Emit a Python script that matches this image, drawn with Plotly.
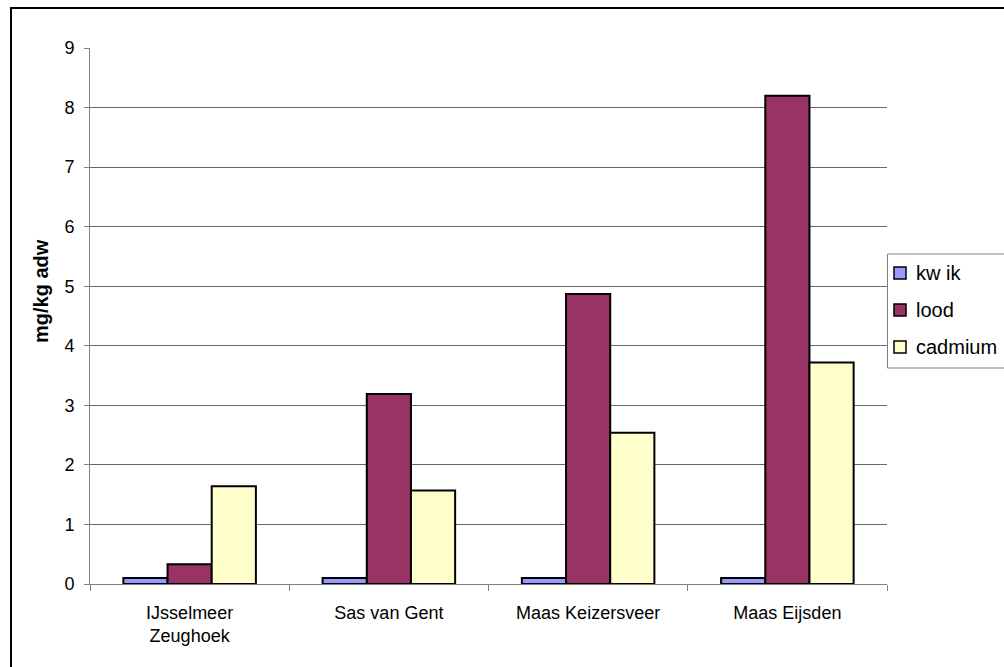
import plotly.graph_objects as go

categories = ["IJsselmeer<br>Zeughoek", "Sas van Gent", "Maas Keizersveer", "Maas Eijsden"]
kwik = [0.1, 0.1, 0.1, 0.1]
lood = [0.33, 3.19, 4.87, 8.2]
cadmium = [1.64, 1.57, 2.54, 3.72]
y_ticks = [0, 1, 2, 3, 4, 5, 6, 7, 8, 9]
y_title = "mg/kg adw"

series_names = ["kw ik", "lood", "cadmium"]
series_values = [kwik, lood, cadmium]
series_colors = ["#9999FF", "#993366", "#FFFFCC"]

fig = go.Figure()
for name, vals, col in zip(series_names, series_values, series_colors):
    fig.add_trace(go.Bar(x=categories, y=vals, name=name, showlegend=False,
                         marker=dict(color=col, line=dict(color="black", width=2))))

W, H = 1004, 667
L, R, T, B = 90, 117, 48, 83
pw, ph = W - L - R, H - T - B


def px_x(p):
    return (p - L) / pw


def px_y(p):
    return (H - B - p) / ph


FONT = "Liberation Sans, Arial"

shapes = [dict(type="rect", xref="paper", yref="paper",
               x0=px_x(11), x1=px_x(1012), y0=px_y(675), y1=px_y(8),
               line=dict(color="black", width=2), fillcolor="rgba(0,0,0,0)", layer="below"),
          dict(type="rect", xref="paper", yref="paper",
               x0=px_x(887.5), x1=px_x(1012), y0=px_y(368), y1=px_y(254),
               line=dict(color="#808080", width=1), fillcolor="white", layer="above")]
annotations = [dict(text="<b>" + y_title + "</b>", xref="paper", yref="paper",
                    x=px_x(41), y=px_y(291), xanchor="center", yanchor="middle",
                    textangle=-90, showarrow=False,
                    font=dict(family=FONT, size=20, color="black"))]
row_y = [273, 310, 347]
for name, col, yy in zip(series_names, series_colors, row_y):
    shapes.append(dict(type="rect", xref="paper", yref="paper",
                       x0=px_x(894), x1=px_x(906), y0=px_y(yy + 6), y1=px_y(yy - 6),
                       line=dict(color="black", width=1.5), fillcolor=col, layer="above"))
    annotations.append(dict(text=name, xref="paper", yref="paper", x=px_x(914), y=px_y(yy),
                            xanchor="left", yanchor="middle", showarrow=False,
                            font=dict(family=FONT, size=20, color="black")))

fig.update_layout(
    width=W, height=H,
    margin=dict(l=L, r=R, t=T, b=B, autoexpand=False),
    paper_bgcolor="white", plot_bgcolor="white",
    font=dict(family=FONT, size=18, color="black"),
    barmode="group", bargap=0.335, bargroupgap=0,
    showlegend=False,
    xaxis=dict(showline=True, linecolor="#808080", linewidth=1,
               ticks="outside", tickson="boundaries", ticklen=6, tickcolor="#808080",
               showgrid=False, tickfont=dict(size=18), ticklabelstandoff=12),
    yaxis=dict(range=[0, 9], tickvals=y_ticks, showline=True, linecolor="#808080", linewidth=1,
               ticks="outside", ticklen=5, tickcolor="#808080",
               showgrid=True, gridcolor="#666666", gridwidth=1,
               zeroline=False, tickfont=dict(size=18), ticklabelstandoff=6),
    shapes=shapes,
    annotations=annotations,
)

fig.write_html("out.html")
